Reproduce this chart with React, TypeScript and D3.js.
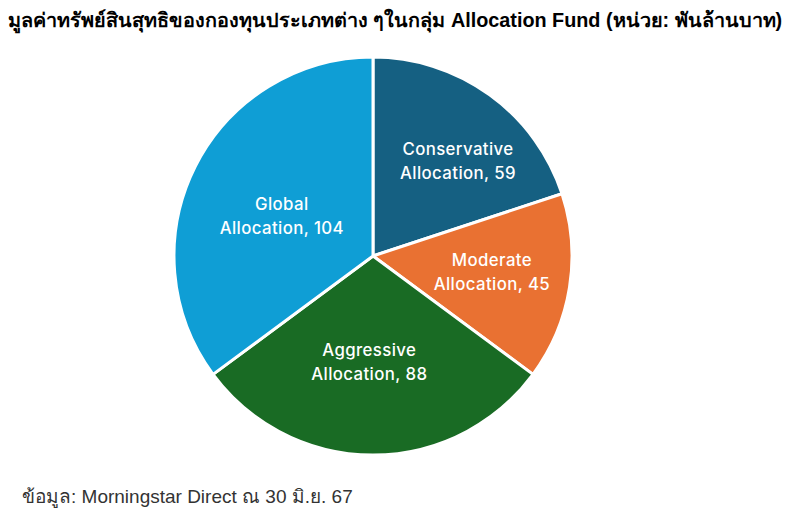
import React, { useEffect, useRef } from "react";
import * as d3 from "d3";

const categories = ["Conservative Allocation", "Moderate Allocation", "Aggressive Allocation", "Global Allocation"];
const labelLines = [["Conservative", "Allocation, 59"], ["Moderate", "Allocation, 45"], ["Aggressive", "Allocation, 88"], ["Global", "Allocation, 104"]];
const values = [59, 45, 88, 104];
const colors = ["#156082", "#E97132", "#196B24", "#0F9ED5"];
// label placement (Excel "best fit"): radius fraction and angle nudge in degrees
const labelRadiusFrac = [0.64, 0.603, 0.533, 0.5];
const labelAngleNudge = [6, -1.4, 2, -3.2];

const title = "มูลค่าทรัพย์สินสุทธิของกองทุนประเภทต่าง ๆในกลุ่ม Allocation Fund (หน่วย: พันล้านบาท)";
const footer = "ข้อมูล: Morningstar Direct ณ 30 มิ.ย. 67";

const W = 793;
const H = 517;

export default function App() {
  const ref = useRef<SVGSVGElement | null>(null);
  useEffect(() => {
    const svg = d3.select(ref.current);
    svg.selectAll("*").remove();
    const cx = 373, cy = 256, R = 199;
    const data = categories.map((c, i) => ({ c, v: values[i], i }));
    const pie = d3.pie<any>().value((d) => d.v).sort(null);
    const arcs = pie(data);
    const arc = d3.arc<any>().innerRadius(0).outerRadius(R);
    const g = svg.append("g").attr("transform", `translate(${cx},${cy})`);
    g.selectAll("path").data(arcs).enter().append("path")
      .attr("d", arc as any)
      .attr("fill", (d: any) => colors[d.data.i])
      .attr("stroke", "#fff").attr("stroke-width", 3).attr("stroke-linejoin", "round");
    arcs.forEach((a: any) => {
      const i = a.data.i;
      const r = R * labelRadiusFrac[i];
      const ang = (a.startAngle + a.endAngle) / 2 + (labelAngleNudge[i] * Math.PI) / 180;
      const x = r * Math.sin(ang);
      const y = -r * Math.cos(ang);
      const t = g.append("text").attr("text-anchor", "middle").attr("fill", "#fff")
        .attr("font-family", "Inter, 'Noto Sans', sans-serif").attr("font-size", 16.8)
        .attr("font-weight", 500).attr("letter-spacing", 0.4);
      const lines = labelLines[i];
      lines.forEach((ln, k) => {
        t.append("tspan").attr("x", x).attr("y", y + (k - (lines.length - 1) / 2) * 23.5 + 6).text(ln);
      });
    });
    svg.append("text").attr("x", 8).attr("y", 27).attr("font-family", "Tahoma, 'Liberation Sans', Arial, sans-serif")
      .attr("font-weight", "bold").attr("font-size", 19.8).attr("fill", "#000").text(title);
    svg.append("text").attr("x", 22).attr("y", 503).attr("font-family", "'Liberation Sans', Arial, sans-serif")
      .attr("font-size", 19).attr("fill", "#333").text(footer);
  }, []);
  return (
    <svg ref={ref} width={W} height={H} style={{ position: "absolute", left: 0, top: 0, background: "#fff" }} />
  );
}
